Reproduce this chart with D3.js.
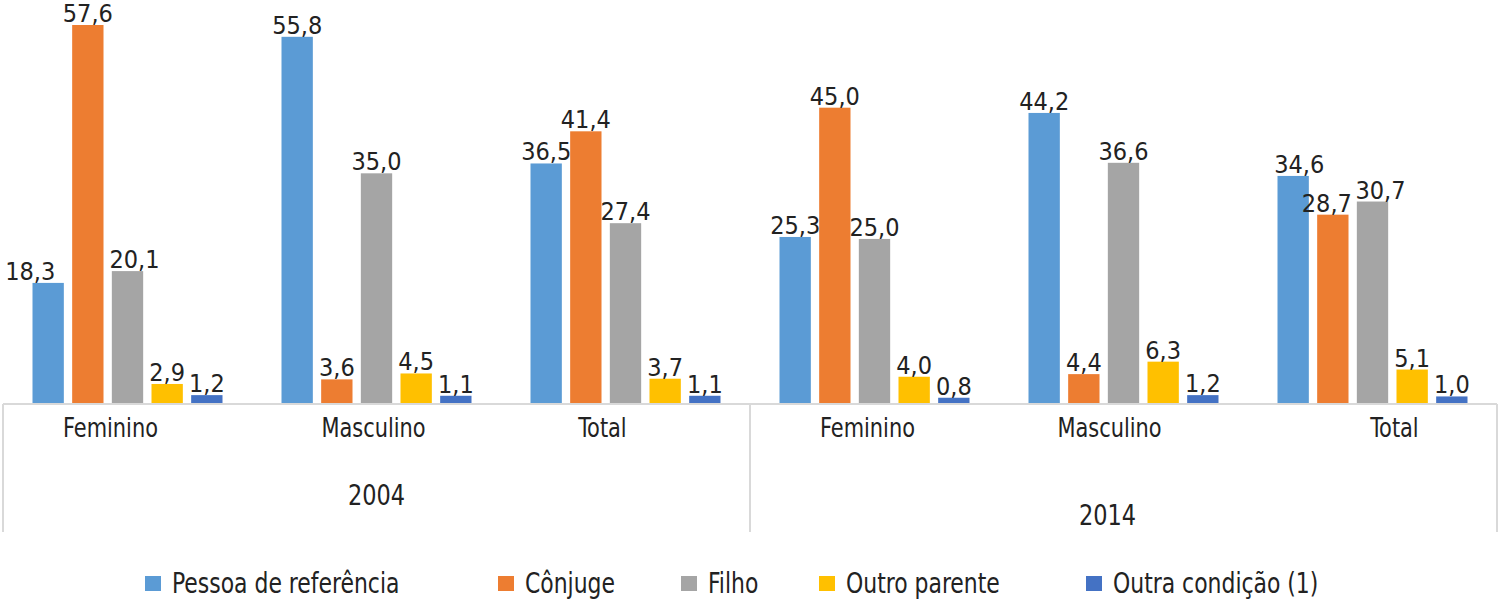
<!DOCTYPE html>
<html>
<head>
<meta charset="utf-8">
<script src="https://cdn.jsdelivr.net/npm/d3@7"></script>
<style>
  body { margin: 0; background: #fff; }
  text { font-family: "Liberation Sans Narrow", "DejaVu Sans Condensed", sans-serif; fill: #222; }
</style>
</head>
<body>
<div id="chart"></div>
<script>
// data
var years = ["2004", "2014"];
var categories = ["Feminino", "Masculino", "Total"];
var seriesNames = ["Pessoa de referência", "Cônjuge", "Filho", "Outro parente", "Outra condição (1)"];
var pessoaRef   = [18.3, 55.8, 36.5, 25.3, 44.2, 34.6];
var conjuge     = [57.6,  3.6, 41.4, 45.0,  4.4, 28.7];
var filho       = [20.1, 35.0, 27.4, 25.0, 36.6, 30.7];
var outroPar    = [ 2.9,  4.5,  3.7,  4.0,  6.3,  5.1];
var outraCond   = [ 1.2,  1.1,  1.1,  0.8,  1.2,  1.0];
var colors = ["#5b9bd5", "#ed7d31", "#a5a5a5", "#ffc000", "#4472c4"];

// label nudges (the original labels were moved by hand a bit)
var nudge = {"0-0": -18, "0-2": 7, "5-0": 6, "5-1": -6, "5-2": 8};
var catShift = [-17, -3, -23, -7, -14, 22];

var width = 1500, height = 601;
var left = 3, right = 1497, base = 403;

var values = [pessoaRef, conjuge, filho, outroPar, outraCond];
var groups = [];
years.forEach(function(y, yi) {
    categories.forEach(function(c, ci) {
        groups.push({year: y, cat: c, idx: yi * categories.length + ci});
    });
});

// squeeze a text horizontally, the original font is a narrow one
function squeeze(sel, k) {
    sel.each(function() {
        var w = this.getComputedTextLength();
        d3.select(this).attr("textLength", w * k).attr("lengthAdjust", "spacingAndGlyphs");
    });
}

var svg = d3.select("#chart").append("svg")
    .attr("width", width)
    .attr("height", height);

var x0 = d3.scaleBand()
    .domain(groups.map(function(g) { return g.idx; }))
    .range([left, right]);

var x1 = d3.scaleBand()
    .domain(d3.range(seriesNames.length))
    .range([0, 190])
    .paddingInner(0.21);

var y = d3.scaleLinear()
    .domain([0, 57.6])
    .range([base, 25]);

var g = svg.selectAll(".grp")
    .data(groups)
    .enter().append("g")
    .attr("transform", function(d) { return "translate(" + (x0(d.idx) + (x0.bandwidth() - 190) / 2) + ",0)"; });

g.selectAll("rect")
    .data(function(d) { return values.map(function(v, s) { return {s: s, v: v[d.idx], gi: d.idx}; }); })
    .enter().append("rect")
    .attr("x", function(d) { return x1(d.s); })
    .attr("width", x1.bandwidth())
    .attr("y", function(d) { return y(d.v); })
    .attr("height", function(d) { return base - y(d.v); })
    .attr("fill", function(d) { return colors[d.s]; });

g.selectAll(".val")
    .data(function(d) { return values.map(function(v, s) { return {s: s, v: v[d.idx], gi: d.idx}; }); })
    .enter().append("text")
    .attr("class", "val")
    .attr("x", function(d) { return x1(d.s) + x1.bandwidth() / 2 + (nudge[d.gi + "-" + d.s] || 0); })
    .attr("y", function(d) { return y(d.v) - 3; })
    .attr("text-anchor", "middle")
    .style("font-size", "25px")
    .text(function(d) { return d3.format(".1f")(d.v).replace(".", ","); });

// axis lines
var axisColor = "#d9d9d9";
svg.append("line")
    .attr("x1", left).attr("x2", right)
    .attr("y1", base + 1).attr("y2", base + 1)
    .attr("stroke", axisColor).attr("stroke-width", 2);

[0, 3, 6].forEach(function(i) {
    var xx = i < 6 ? x0(i) : right;
    svg.append("line")
        .attr("x1", xx).attr("x2", xx)
        .attr("y1", base + 1).attr("y2", 532)
        .attr("stroke", axisColor).attr("stroke-width", 2);
});

// category labels
svg.selectAll(".cat")
    .data(groups)
    .enter().append("text")
    .attr("class", "cat")
    .attr("x", function(d) { return x0(d.idx) + x0.bandwidth() / 2 + catShift[d.idx]; })
    .attr("y", 437)
    .attr("text-anchor", "middle")
    .style("font-size", "27px")
    .text(function(d) { return d.cat; })
    .call(squeeze, 0.86);

// year labels
var yearY = [505, 525];
svg.selectAll(".year")
    .data(years)
    .enter().append("text")
    .attr("class", "year")
    .attr("x", function(d, i) { return x0(i * 3) + x0.bandwidth() * 1.5 - (i ? 16 : 0); })
    .attr("y", function(d, i) { return yearY[i]; })
    .attr("text-anchor", "middle")
    .style("font-size", "28px")
    .text(function(d) { return d; })
    .call(squeeze, 0.89);

// legend
var legendX = [145, 498, 681, 819, 1086];
var leg = svg.selectAll(".leg")
    .data(seriesNames)
    .enter().append("g")
    .attr("transform", function(d, i) { return "translate(" + legendX[i] + ",576)"; });

leg.append("rect")
    .attr("width", 16).attr("height", 15)
    .attr("fill", function(d, i) { return colors[i]; });

leg.append("text")
    .attr("x", 27)
    .attr("y", 17)
    .style("font-size", "29px")
    .text(function(d) { return d; })
    .call(squeeze, 0.84);
</script>
</body>
</html>
